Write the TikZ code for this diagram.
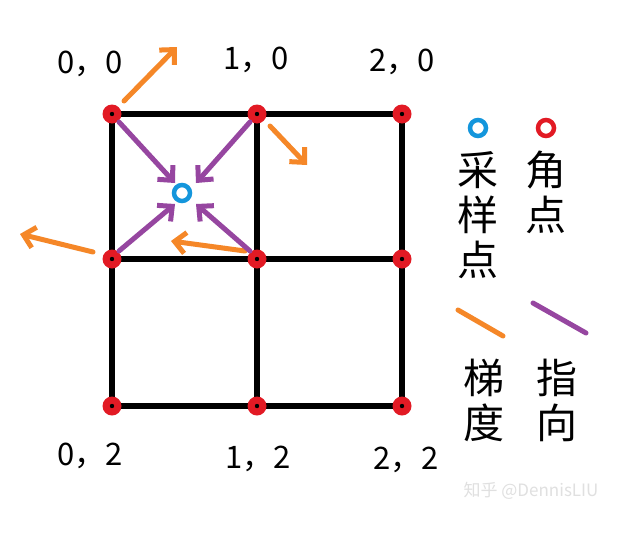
\documentclass[tikz,border=0pt]{standalone}
\usepackage{fontspec}
\setmainfont{Noto Sans CJK SC}
\usetikzlibrary{arrows.meta}
\definecolor{gridred}{RGB}{226,26,36}
\definecolor{sampleblue}{RGB}{20,150,220}
\definecolor{gradorange}{RGB}{245,135,40}
\definecolor{pointpurple}{RGB}{150,70,160}
\begin{document}
\begin{tikzpicture}[x=1pt,y=-1pt,
  gridline/.style={line width=6pt},
  corner/.style={circle,fill=gridred,minimum size=19pt,inner sep=0pt,path picture={\fill[black] (path picture bounding box.center) circle (2.2pt);}},
  sample/.style={circle,draw=sampleblue,line width=4.5pt,fill=white,minimum size=16pt,inner sep=0pt},
  grad/.style={draw=gradorange,line width=5pt,line cap=round,-{Straight Barb[length=11pt,width=21pt,line width=5pt]}},
  pointto/.style={draw=pointpurple,line width=5pt,line cap=round,-{Straight Barb[length=11pt,width=21pt,line width=5pt]}},
  coordlabel/.style={font=\fontsize{31}{31}\selectfont},
  legendtext/.style={font=\fontsize{41}{45}\selectfont,align=center}]
\useasboundingbox (0,0) rectangle (637,533);
\fill[white] (0,0) rectangle (637,533);
% grid
\draw[gridline] (112,114) rectangle (402,406);
\draw[gridline] (257,114) -- (257,406);
\draw[gridline] (112,259) -- (402,259);
% corners
\node[corner] (c00) at (112,114) {};
\node[corner] (c10) at (257,114) {};
\node[corner] (c20) at (402,114) {};
\node[corner] (c01) at (112,259) {};
\node[corner] (c11) at (257,259) {};
\node[corner] (c21) at (402,259) {};
\node[corner] (c02) at (112,406) {};
\node[corner] (c12) at (257,406) {};
\node[corner] (c22) at (402,406) {};
% sample point
\node[sample] (s) at (182,193) {};
% gradient arrows
\coordinate (g00) at (177,47);
\coordinate (g10) at (307,165);
\coordinate (g01) at (20,234);
\coordinate (g11) at (171,241);
\draw[grad] (124,101) -- (g00);
\draw[grad] (270,126) -- (g10);
\draw[grad] (93,252) -- (g01);
\draw[grad] (245,251) -- (g11);
% pointing arrows
\coordinate (p00) at (175,183);
\coordinate (p10) at (196,183);
\coordinate (p01) at (175,204);
\coordinate (p11) at (196,204);
\draw[pointto] (119,122) -- (p00);
\draw[pointto] (250,122) -- (p10);
\draw[pointto] (119,251) -- (p01);
\draw[pointto] (250,251) -- (p11);
% coordinate labels
\node[coordlabel] (l00) at (90,64) {0，0};
\node[coordlabel] (l10) at (256,60) {1，0};
\node[coordlabel] (l20) at (402,62) {2，0};
\node[coordlabel] (l02) at (90,456) {0，2};
\node[coordlabel] (l12) at (258,459) {1，2};
\node[coordlabel] (l22) at (406,460) {2，2};
% legend
\node[sample] (ls) at (478,128) {};
\node[circle,draw=gridred,line width=4.5pt,fill=white,minimum size=16pt,inner sep=0pt] (lc) at (546,128) {};
\node[legendtext] (ts) at (478,215) {采\\样\\点};
\node[legendtext] (tc) at (546,192) {角\\点};
\coordinate (lo1) at (458,310);
\coordinate (lo2) at (503,336);
\coordinate (lp1) at (533,303);
\coordinate (lp2) at (586,333);
\draw[draw=gradorange,line width=5pt,line cap=round] (lo1) -- (lo2);
\draw[draw=pointpurple,line width=5pt,line cap=round] (lp1) -- (lp2);
\node[legendtext] (tg) at (484,400) {梯\\度};
\node[legendtext] (tp) at (557,400) {指\\向};
% watermark
\node[text=black!12,font=\fontsize{17}{17}\selectfont] (wm) at (531,491) {知乎 @DennisLIU};
\end{tikzpicture}
\end{document}
